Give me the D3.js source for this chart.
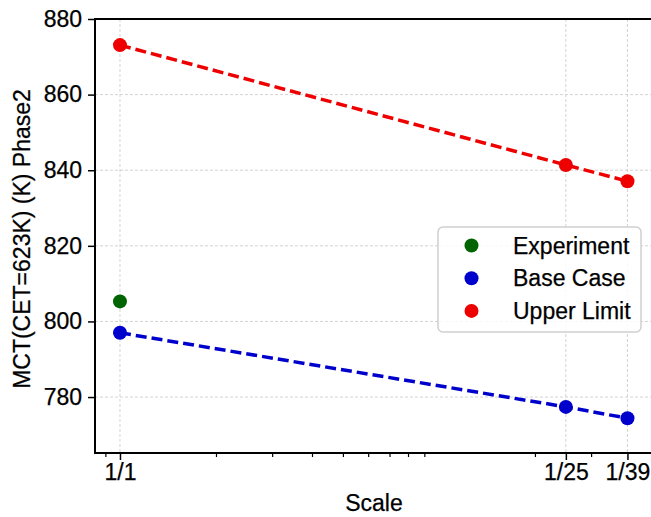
<!DOCTYPE html>
<html>
<head>
<meta charset="utf-8">
<script src="https://cdn.jsdelivr.net/npm/d3@7"></script>
<style>
  body { margin: 0; background: #fff; }
  text { font-family: "Liberation Sans", Arial, sans-serif; fill: #000; stroke: #000; stroke-width: 0.25px; }
</style>
</head>
<body>
<svg id="chart" width="651" height="517"></svg>
<script>
// scale denominators (1/1, 1/25, 1/39) on a log axis
var scales = [1, 25, 39];
var scaleLabels = ['1/1', '1/25', '1/39'];
var minorTicks = [0.9, 2, 3, 4, 5, 6, 7, 8, 9, 20, 30];
var yTicks = [780, 800, 820, 840, 860, 880];

var experiment = [{s: 1, v: 805.3}];
var baseCase = [797.0, 777.4, 774.4];
var upperLimit = [873.1, 841.4, 837.1];

var margin = {left: 95, top: 19, right: -2, bottom: 64};
var W = 651, H = 517;
var FS = '23px';

var svg = d3.select('#chart');

var x = d3.scaleLog().domain([0.835, 46.9]).range([margin.left, W - margin.right]);
var y = d3.scaleLinear().domain([765.2, 880]).range([H - margin.bottom, margin.top]);

// grid
var grid = svg.append('g').attr('stroke', '#c8c8c8').attr('stroke-width', 0.8)
	.attr('stroke-dasharray', '3,2');
grid.selectAll('.gy').data(yTicks).enter().append('line')
	.attr('x1', margin.left).attr('x2', W - margin.right)
	.attr('y1', function(d) { return y(d); }).attr('y2', function(d) { return y(d); });
grid.selectAll('.gx').data(scales).enter().append('line')
	.attr('y1', margin.top).attr('y2', H - margin.bottom)
	.attr('x1', function(d) { return x(d); }).attr('x2', function(d) { return x(d); });

// axes
var yAxis = svg.append('g').attr('transform', 'translate(' + margin.left + ',0)')
	.call(d3.axisLeft(y).tickValues(yTicks).tickSize(7).tickPadding(6).tickFormat(d3.format('d')));
var xAxis = svg.append('g').attr('transform', 'translate(0,' + (H - margin.bottom) + ')')
	.call(d3.axisBottom(x).tickValues(scales).tickSize(7).tickPadding(4)
		.tickFormat(function(d, i) { return scaleLabels[i]; }));
svg.append('g').attr('transform', 'translate(0,' + (H - margin.bottom) + ')')
	.call(d3.axisBottom(x).tickValues(minorTicks).tickSize(4).tickFormat(''))
	.call(function(g) { g.select('.domain').remove(); g.selectAll('line').attr('stroke-width', 1.2); });

[yAxis, xAxis].forEach(function(g) {
	g.select('.domain').remove();
	g.selectAll('line').attr('stroke-width', 1.5);
	g.selectAll('text').style('font-size', FS);
});

// frame
svg.append('rect').attr('x', margin.left).attr('y', margin.top)
	.attr('width', W - margin.right - margin.left).attr('height', H - margin.bottom - margin.top)
	.attr('fill', 'none').attr('stroke', '#000').attr('stroke-width', 2);

var line = d3.line().x(function(d, i) { return x(scales[i]); }).y(function(d) { return y(d); });

function series(vals, color) {
	svg.append('path').datum(vals).attr('d', line).attr('fill', 'none')
		.attr('stroke', color).attr('stroke-width', 3.5).attr('stroke-dasharray', '11,5');
	svg.selectAll(null).data(vals).enter().append('circle')
		.attr('cx', function(d, i) { return x(scales[i]); })
		.attr('cy', function(d) { return y(d); })
		.attr('r', 7).attr('fill', color);
}
series(upperLimit, '#ee0000');
series(baseCase, '#0000cc');
svg.selectAll(null).data(experiment).enter().append('circle')
	.attr('cx', function(d) { return x(d.s); }).attr('cy', function(d) { return y(d.v); })
	.attr('r', 7).attr('fill', '#006400');

// labels
svg.append('text').attr('x', (margin.left + W - margin.right) / 2).attr('y', 511)
	.attr('text-anchor', 'middle').style('font-size', FS).text('Scale');
svg.append('text').attr('transform', 'translate(30,239) rotate(-90)')
	.attr('text-anchor', 'middle').style('font-size', FS).text('MCT(CET=623K) (K) Phase2');

// legend
var legendNames = ['Experiment', 'Base Case', 'Upper Limit'];
var legendColors = ['#006400', '#0000cc', '#ee0000'];
var lg = svg.append('g');
lg.append('rect').attr('x', 438).attr('y', 227).attr('width', 203).attr('height', 105)
	.attr('rx', 5).attr('fill', '#fff').attr('fill-opacity', 0.85)
	.attr('stroke', '#cfcfcf').attr('stroke-width', 1.5);
legendNames.forEach(function(n, i) {
	var cy = 245.5 + i * 32.7;
	lg.append('circle').attr('cx', 471.5).attr('cy', cy).attr('r', 7).attr('fill', legendColors[i]);
	lg.append('text').attr('x', 513).attr('y', cy + 8).style('font-size', FS).text(n);
});
</script>
</body>
</html>
